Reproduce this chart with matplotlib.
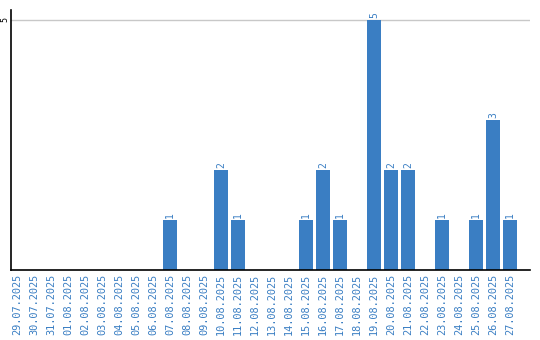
import matplotlib

matplotlib.use("Agg")
import matplotlib.pyplot as plt
import numpy as np

dates = [
    "29.07.2025", "30.07.2025", "31.07.2025", "01.08.2025", "02.08.2025",
    "03.08.2025", "04.08.2025", "05.08.2025", "06.08.2025", "07.08.2025",
    "08.08.2025", "09.08.2025", "10.08.2025", "11.08.2025", "12.08.2025",
    "13.08.2025", "14.08.2025", "15.08.2025", "16.08.2025", "17.08.2025",
    "18.08.2025", "19.08.2025", "20.08.2025", "21.08.2025", "22.08.2025",
    "23.08.2025", "24.08.2025", "25.08.2025", "26.08.2025", "27.08.2025",
]
counts = [0, 0, 0, 0, 0, 0, 0, 0, 0, 1,
          0, 0, 2, 1, 0, 0, 0, 1, 2, 1,
          0, 5, 2, 2, 0, 1, 0, 1, 3, 1]

blue = "#3a7ec3"
font = "DejaVu Sans Mono"

fig = plt.figure(figsize=(5.4, 3.4), dpi=100)
ax = fig.add_axes([11 / 540, 1 - 270 / 340, 519 / 540, 260 / 340])

x = np.arange(len(dates))
ax.bar(x, counts, width=0.82, color=blue, zorder=2)
for xi, v in zip(x, counts):
    if v > 0:
        ax.text(xi, v + 0.04, str(v), rotation=90, ha="center", va="bottom",
                color=blue, fontsize=7, family=font)

ax.set_xlim(-0.35, 30.18)
ax.set_ylim(0, 5.2)
ax.set_xticks(x)
ax.set_xticklabels(dates, rotation=90, color=blue, fontsize=7.4, family=font)
ax.set_yticks([5])
ax.set_yticklabels(["5"], rotation=90, va="center", fontsize=6, family=font)
ax.tick_params(axis="x", length=0, pad=3)
ax.tick_params(axis="y", length=0, pad=1)
ax.yaxis.grid(True, color="#c8c8c8", linewidth=1, zorder=0)
for s in ("top", "right"):
    ax.spines[s].set_visible(False)
for s in ("left", "bottom"):
    ax.spines[s].set_color("black")
    ax.spines[s].set_linewidth(1.2)

fig.savefig("out.png", dpi=100)
